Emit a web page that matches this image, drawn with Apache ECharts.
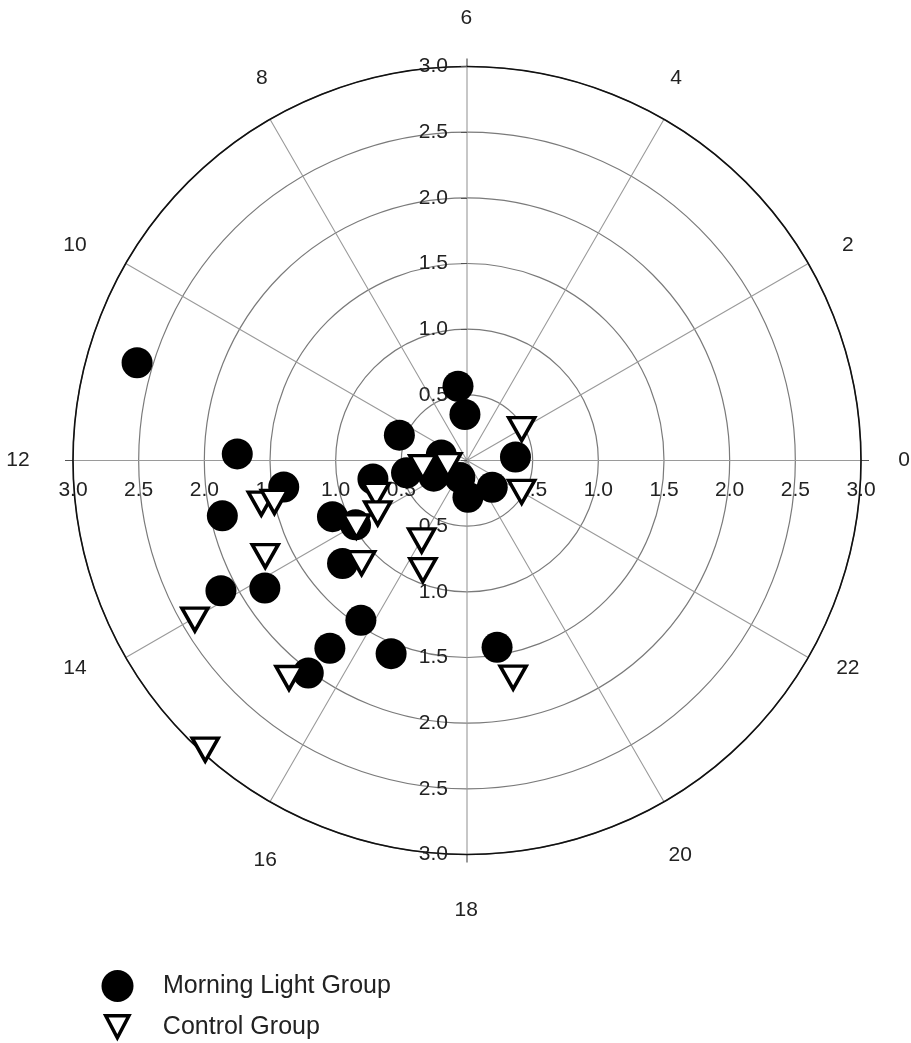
<!DOCTYPE html>
<html>
<head>
<meta charset="utf-8">
<script src="https://cdn.jsdelivr.net/npm/echarts@6/dist/echarts.min.js"></script>
<style>
html,body{margin:0;padding:0;background:#fff;}
#chart{width:911px;height:1043px;}
</style>
</head>
<body>
<div id="chart"></div>
<script>
// ---- data (hour of day, amplitude) ----
const hourTicks = ['0','2','4','6','8','10','12','14','16','18','20','22',''];
const radiusTicks = ['', '0.5', '1.0', '1.5', '2.0', '2.5', '3.0'];

const morningHour = [10.90, 11.89, 12.55, 12.85, 13.51, 14.00, 12.74, 10.63, 12.77, 13.68, 11.20, 16.47, 18.10, 20.89, 0.27, 6.46, 6.17, 14.64, 14.15, 13.86, 15.76, 16.57, 15.59, 15.55, 18.61];
const morningAmp  = [2.62, 1.75, 1.41, 1.91, 1.11, 0.98, 0.73, 0.55, 0.47, 0.28, 0.20, 0.14, 0.28, 0.28, 0.37, 0.57, 0.35, 1.23, 1.82, 2.12, 1.46, 1.58, 1.77, 2.02, 1.44];

const controlHour = [1.99, 12.89, 12.56, 22.01, 13.38, 14.04, 14.05, 16.03, 16.54, 14.95, 12.79, 12.81, 13.69, 14.02, 15.38, 15.19, 18.80];
const controlAmp  = [0.48, 0.15, 0.34, 0.48, 0.74, 0.79, 0.98, 0.70, 0.90, 1.12, 1.60, 1.50, 1.70, 2.40, 2.14, 2.97, 1.69];

const seriesNames = ['Morning Light Group', 'Control Group'];

// ---- layout / style ----
const FONT = 'Liberation Sans, Arial, Helvetica, sans-serif';
const FS = 21, LH = 22;
const TXT = '#222';
const CENTER = [467, 460.5];
const RADIUS = 394;
const HOUR_LABEL_MARGIN = -100;
// where each hour label's centre sits: [distance from centre in px, direction in degrees]
const hourLabelPlace = {
  '0': [437, 0], '2': [437.7, 29.5], '4': [435.9, 61.35], '6': [442.5, 90.1],
  '8': [434, 118.2], '10': [447.3, 151.2], '12': [449, 180.2], '14': [443.5, 207.9],
  '16': [447.7, 243.2], '18': [449.5, 269.9], '20': [448.3, 298.4], '22': [433.8, 331.4]
};

const measureCtx = document.createElement('canvas').getContext('2d');
measureCtx.font = FS + 'px ' + FONT;

// padding that moves each (edge-anchored) axis label so its centre lands on its place
function hourRich() {
  const rich = {};
  hourTicks.forEach((t, i) => {
    if (!t) return;
    const theta = i * 30 * Math.PI / 180;
    const d = RADIUS + HOUR_LABEL_MARGIN;
    const px = CENTER[0] + d * Math.cos(theta), py = CENTER[1] - d * Math.sin(theta);
    const pl = hourLabelPlace[t];
    const a = pl[1] * Math.PI / 180;
    const tx = CENTER[0] + pl[0] * Math.cos(a), ty = CENTER[1] - pl[0] * Math.sin(a);
    const w = measureCtx.measureText(t).width, h = LH;
    let pT = 0, pR = 0, pB = 0, pL = 0;
    const hAlign = Math.abs(px - CENTER[0]) / RADIUS < 0.3 ? 'center' : (px > CENTER[0] ? 'left' : 'right');
    const vAlign = Math.abs(py - CENTER[1]) / RADIUS < 0.3 ? 'middle' : (py > CENTER[1] ? 'top' : 'bottom');
    if (hAlign === 'right') pR = px - w / 2 - tx;
    else if (hAlign === 'left') pL = tx - px - w / 2;
    else { const dx = tx - px; if (dx > 0) pL = 2 * dx; else pR = -2 * dx; }
    // text is centred vertically inside its padded box
    if (vAlign === 'bottom') pB = 2 * (py - ty) - h;
    else if (vAlign === 'top') pT = 2 * (ty - py) - h;
    rich['h' + t] = {
      fontSize: FS, lineHeight: LH, fontFamily: FONT, color: TXT,
      padding: [Math.max(0, pT), Math.max(0, pR), Math.max(0, pB), Math.max(0, pL)]
    };
  });
  return rich;
}

const chart = echarts.init(document.getElementById('chart'), null, {renderer: 'canvas'});

function radiusAxisCfg(polarIndex, labelOpts, tickOpts, split) {
  return {
    polarIndex: polarIndex,
    type: 'value', min: 0, max: 3, interval: 0.5,
    axisLine: {show: false},
    axisTick: tickOpts,
    splitLine: split ? {show: true, lineStyle: {color: '#7a7a7a', width: 1.2}} : {show: false},
    axisLabel: Object.assign({
      fontSize: FS, color: TXT, fontFamily: FONT,
      formatter: v => radiusTicks[Math.round(v / 0.5)] || ''
    }, labelOpts)
  };
}

function hiddenAngle(polarIndex, startAngle, ticks) {
  return {
    polarIndex: polarIndex,
    type: 'value', min: 0, max: 24, interval: 6,
    startAngle: startAngle, clockwise: false,
    axisLine: {show: false},
    axisLabel: {show: false},
    splitLine: {show: false},
    axisTick: ticks ? {show: true, length: 8, lineStyle: {color: '#555', width: 1.2}} : {show: false}
  };
}

const option = {
  backgroundColor: '#fff',
  animation: false,
  polar: [0,1,2,3].map(() => ({center: CENTER, radius: RADIUS})),
  angleAxis: [
    {
      polarIndex: 0,
      type: 'value', min: 0, max: 24, interval: 2,
      startAngle: 0, clockwise: false,
      axisLine: {show: true, lineStyle: {color: '#111', width: 1.6}},
      axisTick: {show: false},
      splitLine: {show: true, lineStyle: {color: '#9a9a9a', width: 1.1}},
      axisLabel: {
        margin: HOUR_LABEL_MARGIN, fontSize: FS, color: TXT, fontFamily: FONT,
        hideOverlap: false,
        formatter: v => { const t = hourTicks[Math.round(v / 2)]; return t ? '{h' + t + '|' + t + '}' : ''; },
        rich: hourRich()
      }
    },
    hiddenAngle(1, 90, true),
    hiddenAngle(2, 180, false),
    hiddenAngle(3, 270, false)
  ],
  radiusAxis: [
    radiusAxisCfg(0, {margin: -19, align: 'center', verticalAlign: 'top'}, {show: false}, true),
    radiusAxisCfg(1, {margin: 19}, {show: true, length: 6, lineStyle: {color: '#555'}}, false),
    radiusAxisCfg(2, {margin: 19}, {show: false}, false),
    radiusAxisCfg(3, {margin: -19, align: 'right', verticalAlign: 'middle'}, {show: false}, false)
  ],
  legend: [
    {
      data: [{name: seriesNames[0], icon: 'circle'}],
      left: 101.5, top: 970, padding: 0,
      itemWidth: 81, itemHeight: 32,
      textStyle: {fontSize: 25, color: TXT, fontFamily: FONT}
    },
    {
      data: [{name: seriesNames[1], icon: 'path://M0,0L20,0L10,19Z',
              itemStyle: {color: '#fff', borderColor: '#000', borderWidth: 3.5}}],
      symbolRotate: 0,
      symbolKeepAspect: true,
      left: 104, top: 1014, padding: 0,
      itemWidth: 81, itemHeight: 22,
      textStyle: {fontSize: 25, color: TXT, fontFamily: FONT}
    }
  ],
  series: [
    {
      name: seriesNames[0],
      type: 'scatter', coordinateSystem: 'polar', polarIndex: 0,
      symbol: 'circle', symbolSize: 31,
      itemStyle: {color: '#000', opacity: 1},
      data: morningAmp.map((r, i) => [r, morningHour[i]]),
      z: 5
    },
    {
      name: seriesNames[1],
      type: 'scatter', coordinateSystem: 'polar', polarIndex: 0,
      symbol: 'triangle', symbolRotate: 180, symbolSize: [26, 23],
      itemStyle: {color: '#fff', borderColor: '#000', borderWidth: 3.5, opacity: 1},
      data: controlAmp.map((r, i) => [r, controlHour[i]]),
      z: 6
    }
  ]
};
chart.setOption(option);
</script>
</body>
</html>
